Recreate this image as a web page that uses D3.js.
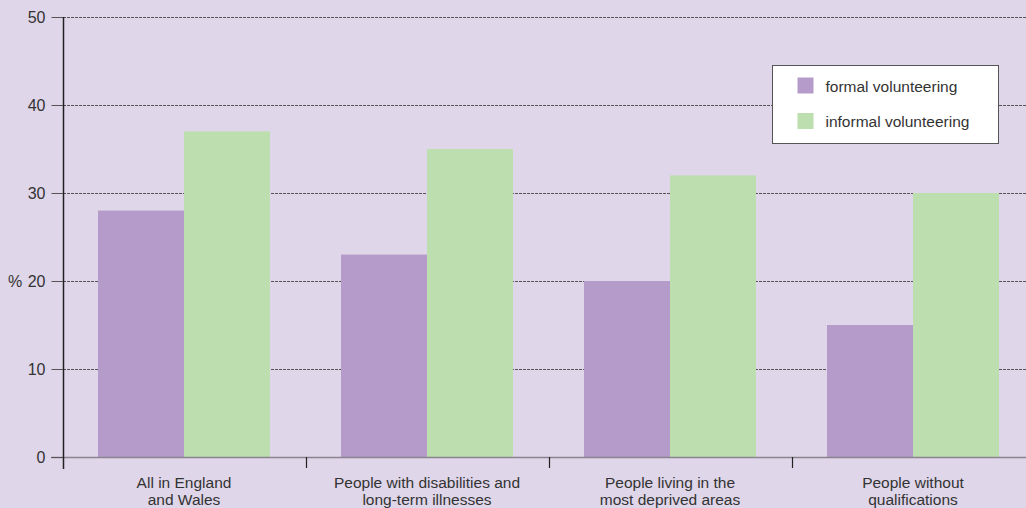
<!DOCTYPE html>
<html>
<head>
<meta charset="utf-8">
<script src="https://cdn.jsdelivr.net/npm/d3@7"></script>
<style>
  body { margin: 0; background: #dfd6e9; }
  svg { display: block; font-family: "Liberation Sans", Arial, sans-serif; }
</style>
</head>
<body>
<div id="chart-container"></div>
<script>
let categories = [
  ["All in England", "and Wales"],
  ["People with disabilities and", "long-term illnesses"],
  ["People living in the", "most deprived areas"],
  ["People without", "qualifications"]
];
let seriesNames = ["formal volunteering", "informal volunteering"];
let formal = [28, 23, 20, 15];
let informal = [37, 35, 32, 30];
let yTicks = [0, 10, 20, 30, 40, 50];

let width = 1026,
    height = 508;

let colors = ["#b59bc9", "#bddeae"];

let svg = d3.select("#chart-container")
            .append("svg")
            .attr("width", width)
            .attr("height", height);

svg.append("rect")
   .attr("width", width)
   .attr("height", height)
   .attr("fill", "#dfd6e9");

let keys = categories.map((c, i) => i);
let data = keys.map(i => ({ i: i, values: [formal[i], informal[i]] }));

// ----- SCALES -----
let xScale = d3.scaleBand()
    .domain(keys)
    .range([63, 1035]);

let xSub = d3.scaleBand()
    .domain([0, 1])
    .range([35, xScale.bandwidth() - 36]);

let yScale = d3.scaleLinear()
    .domain([0, 50])
    .range([457, 17]);

// ----- GRID -----
svg.append("g")
   .selectAll("line")
   .data(yTicks.filter(d => d > 0))
   .join("line")
   .attr("x1", 63)
   .attr("x2", width)
   .attr("y1", d => yScale(d) + 0.5)
   .attr("y2", d => yScale(d) + 0.5)
   .attr("stroke", "#555")
   .attr("stroke-width", 1)
   .attr("stroke-dasharray", "3,1");

// ----- BARS -----
svg.append("g")
   .selectAll("g")
   .data(data)
   .join("g")
   .attr("transform", d => `translate(${xScale(d.i)},0)`)
   .selectAll("rect")
   .data(d => d.values)
   .join("rect")
   .attr("x", (d, j) => xSub(j))
   .attr("width", xSub.bandwidth())
   .attr("y", d => yScale(d))
   .attr("height", d => yScale(0) - yScale(d))
   .attr("fill", (d, j) => colors[j]);

// zero line
svg.append("line")
   .attr("x1", 51)
   .attr("x2", width)
   .attr("y1", yScale(0) + 0.5)
   .attr("y2", yScale(0) + 0.5)
   .attr("stroke", "#8a8490")
   .attr("stroke-width", 1.5);

// ----- Y AXIS -----
let yAxis = svg.append("g")
    .attr("transform", "translate(63.5,0)")
    .call(d3.axisLeft(yScale).tickValues(yTicks).tickSize(12).tickPadding(6));

yAxis.select(".domain").remove();
yAxis.selectAll(".tick line").attr("stroke", "#555");
yAxis.selectAll(".tick text")
     .attr("fill", "#333")
     .style("font-size", "16px")
     .style("font-family", "Liberation Sans, Arial, sans-serif");

svg.append("line")
   .attr("x1", 63.5)
   .attr("x2", 63.5)
   .attr("y1", yScale(50))
   .attr("y2", 469)
   .attr("stroke", "#222")
   .attr("stroke-width", 1.5);

svg.append("text")
   .attr("x", 8)
   .attr("y", 287)
   .attr("fill", "#333")
   .style("font-size", "16px")
   .text("%");

// ----- X AXIS -----
svg.append("g")
   .selectAll("line")
   .data(keys.slice(1))
   .join("line")
   .attr("x1", d => xScale(d) + 0.5)
   .attr("x2", d => xScale(d) + 0.5)
   .attr("y1", yScale(0))
   .attr("y2", 468)
   .attr("stroke", "#222")
   .attr("stroke-width", 1.2);

let labels = svg.append("g")
   .selectAll("text")
   .data(data)
   .join("text")
   .attr("x", d => xScale(d.i) + (xSub(0) + xSub(1) + xSub.bandwidth()) / 2)
   .attr("y", 488)
   .attr("text-anchor", "middle")
   .attr("fill", "#333")
   .style("font-size", "15.5px");

labels.selectAll("tspan")
   .data(d => categories[d.i])
   .join("tspan")
   .attr("x", function() { return d3.select(this.parentNode).attr("x"); })
   .attr("dy", (d, k) => k === 0 ? 0 : 17)
   .text(d => d);

// ----- LEGEND -----
let legend = svg.append("g").attr("transform", "translate(772.5,65.5)");

legend.append("rect")
   .attr("width", 226)
   .attr("height", 78)
   .attr("fill", "#fff")
   .attr("stroke", "#555")
   .attr("stroke-width", 1);

let items = legend.selectAll("g.item")
   .data(seriesNames)
   .join("g")
   .attr("class", "item")
   .attr("transform", (d, i) => `translate(25,${12 + i * 35.5})`);

items.append("rect")
   .attr("width", 16)
   .attr("height", 16)
   .attr("fill", (d, i) => colors[i]);

items.append("text")
   .attr("x", 28)
   .attr("y", 14)
   .attr("fill", "#333")
   .style("font-size", "15.5px")
   .text(d => d);
</script>
</body>
</html>
